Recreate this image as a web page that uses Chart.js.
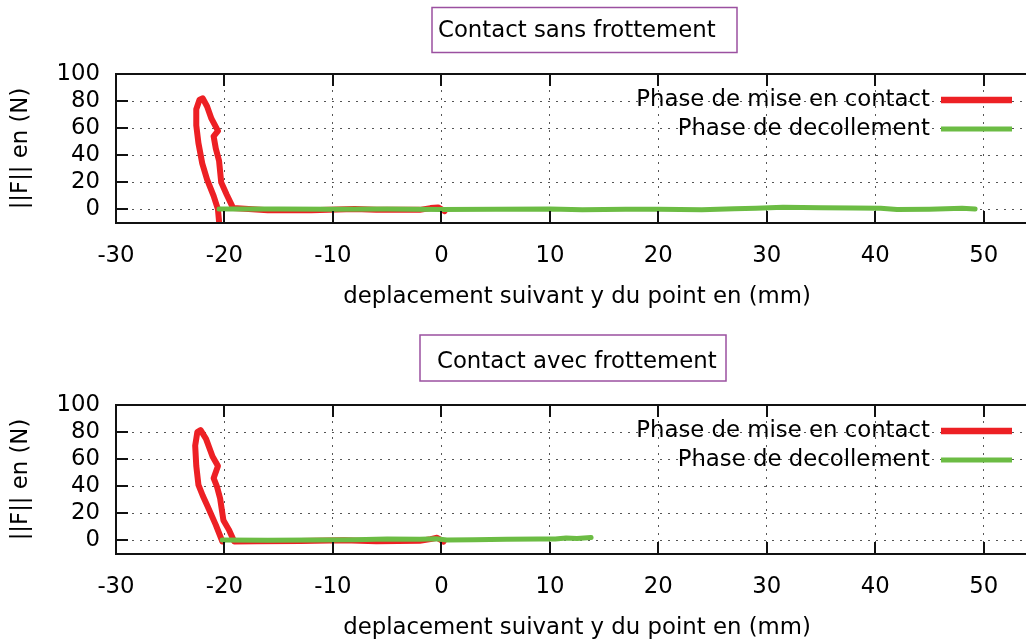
<!DOCTYPE html>
<html>
<head>
<meta charset="utf-8">
<script src="https://cdn.jsdelivr.net/npm/chart.js@4/dist/chart.umd.min.js"></script>
<style>
  html, body { margin: 0; padding: 0; background: #fff; overflow: hidden; }
  #wrap { position: relative; width: 1026px; height: 643px; overflow: hidden; }
  canvas { position: absolute; left: 0; }
  #chart-top { top: 0; }
  #chart-bottom { top: 331px; }
</style>
</head>
<body>
<div id="wrap">
  <canvas id="chart-top" width="1040" height="321"></canvas>
  <canvas id="chart-bottom" width="1040" height="321"></canvas>
</div>
<script>
const xTicks = [-30, -20, -10, 0, 10, 20, 30, 40, 50];
const yTicks = [0, 20, 40, 60, 80, 100];
const seriesLabels = ["Phase de mise en contact", "Phase de decollement"];

// contact sans frottement
const sansContactX = [0.3, -0.3, -1.0, -2.0, -6.0, -8.0, -12.0, -16.0, -19.2, -19.8, -20.3, -20.5, -20.8, -21.0, -20.6, -21.2, -21.6, -22.0, -22.3, -22.6, -22.6, -22.4, -22.05, -21.6, -21.0, -20.6, -20.5];
const sansContactY = [-1.2, 1.5, 1.0, -0.3, -0.2, 0.4, -0.5, -0.6, 1.0, 11, 20, 36, 45, 54, 58, 67, 76, 82, 81, 74, 62, 49, 34, 22, 10, 0, -8.8];
const sansDecolX = [-20.5, -15, -10, -5, 0, 5, 10, 13, 17, 20, 24, 27, 29, 31.5, 35, 38, 40.5, 42, 45, 48, 49.2];
const sansDecolY = [0.4, 0.3, 0.2, 0.4, 0.0, 0.2, 0.3, -0.3, 0.1, 0.1, -0.3, 0.6, 0.9, 1.6, 1.3, 1.0, 0.9, 0.0, 0.2, 0.8, 0.3];

// contact avec frottement
const avecContactX = [0.2, -0.4, -1.0, -2.0, -6.0, -9.0, -13.0, -17.0, -19.1, -19.6, -20.1, -20.4, -20.7, -21.0, -20.6, -21.1, -21.7, -22.2, -22.5, -22.7, -22.6, -22.4, -22.0, -21.6, -20.8, -20.2];
const avecContactY = [-0.8, 2.0, 1.0, -0.3, -0.5, 0.2, -0.4, -0.6, -0.7, 8, 15, 31, 40, 46, 55, 62, 75, 81.5, 80, 70, 55, 41, 33, 26, 11.5, -0.7];
const avecDecolX = [-20.2, -16, -12, -8, -5, -2, -0.5, 0.5, 3, 6, 9, 10.5, 11.5, 12.5, 13.8];
const avecDecolY = [0.3, 0.2, 0.4, 0.5, 1.0, 0.8, 1.2, 0.3, 0.6, 0.8, 1.0, 1.1, 1.8, 1.5, 2.2];

const red = "rgb(237, 32, 36)";
const green = "rgb(108, 188, 68)";
const fontFamily = "'DejaVu Sans', sans-serif";
const fontSize = 22.8;

Chart.defaults.font.family = fontFamily;
Chart.defaults.font.size = fontSize;
Chart.defaults.color = "#000";

function toPoints(xs, ys) {
  return xs.map((x, i) => ({ x: x, y: ys[i] }));
}

// gnuplot-like frame with inward ticks
const framePlugin = {
  id: "frame",
  afterDatasetsDraw(chart) {
    const { ctx, chartArea, scales } = chart;
    const { left, right, top, bottom } = chartArea;
    const tickLen = 12;
    ctx.save();
    ctx.strokeStyle = "#111";
    ctx.lineWidth = 2;
    ctx.beginPath();
    xTicks.forEach((v) => {
      const px = Math.round(scales.x.getPixelForValue(v));
      ctx.moveTo(px, bottom);
      ctx.lineTo(px, bottom - tickLen);
      ctx.moveTo(px, top);
      ctx.lineTo(px, top + tickLen);
    });
    yTicks.forEach((v) => {
      const py = Math.round(scales.y.getPixelForValue(v));
      ctx.moveTo(left, py);
      ctx.lineTo(left + tickLen, py);
      ctx.moveTo(right, py);
      ctx.lineTo(right - tickLen, py);
    });
    ctx.stroke();
    ctx.strokeRect(left, top, right - left, bottom - top);
    ctx.restore();
  }
};

// key in the upper right corner, text right aligned before the sample line
const keyPlugin = {
  id: "key",
  afterDraw(chart) {
    const { ctx } = chart;
    const rows = [
      { label: seriesLabels[0], color: red, width: 6.5, y: 100 },
      { label: seriesLabels[1], color: green, width: 5, y: 129 }
    ];
    ctx.save();
    ctx.font = `${fontSize}px ${fontFamily}`;
    ctx.textAlign = "right";
    ctx.textBaseline = "middle";
    rows.forEach((row) => {
      ctx.fillStyle = "#000";
      ctx.fillText(row.label, 930, row.y);
      ctx.strokeStyle = row.color;
      ctx.lineWidth = row.width;
      ctx.beginPath();
      ctx.moveTo(941, row.y);
      ctx.lineTo(1012, row.y);
      ctx.stroke();
    });
    ctx.restore();
  }
};

// boxed title
const boxTitlePlugin = {
  id: "boxTitle",
  afterDraw(chart, args, opts) {
    const { ctx } = chart;
    ctx.save();
    ctx.strokeStyle = "rgb(155, 80, 160)";
    ctx.lineWidth = 1.5;
    ctx.strokeRect(opts.box[0], opts.box[1], opts.box[2], opts.box[3]);
    ctx.font = `${fontSize}px ${fontFamily}`;
    ctx.fillStyle = "#000";
    ctx.textAlign = "left";
    ctx.textBaseline = "alphabetic";
    ctx.fillText(opts.text, opts.textX, opts.baseline);
    ctx.restore();
  }
};

function makeChart(id, contact, decol, title) {
  const ctx = document.querySelector(id);
  const data = {
    datasets: [
      {
        label: seriesLabels[0],
        data: contact,
        borderColor: red,
        borderWidth: 6,
        order: 2
      },
      {
        label: seriesLabels[1],
        data: decol,
        borderColor: green,
        borderWidth: 5,
        order: 1
      }
    ]
  };
  const gridStyle = {
    color: "#555",
    lineWidth: 1,
    drawTicks: false,
    borderDash: [2, 6]
  };
  const options = {
    responsive: false,
    animation: false,
    layout: { padding: { top: 74, right: 2, left: 0, bottom: 0 } },
    elements: {
      point: { radius: 0 },
      line: { tension: 0, borderJoinStyle: "round", borderCapStyle: "round", fill: false }
    },
    scales: {
      x: {
        type: "linear",
        min: -30,
        max: 55,
        afterBuildTicks: (scale) => {
          scale.ticks = xTicks.map((v) => ({ value: v }));
        },
        afterFit: (scale) => {
          scale.height = 98;
        },
        ticks: { padding: 19, maxRotation: 0, autoSkip: false },
        grid: gridStyle,
        border: { display: false, dash: [2, 6] },
        title: {
          display: true,
          text: "deplacement suivant y du point en (mm)",
          padding: { top: 0, bottom: 10 }
        }
      },
      y: {
        type: "linear",
        min: -10,
        max: 100,
        afterBuildTicks: (scale) => {
          scale.ticks = yTicks.map((v) => ({ value: v }));
        },
        afterFit: (scale) => {
          scale.width = 116;
        },
        ticks: { padding: 16, autoSkip: false },
        grid: gridStyle,
        border: { display: false, dash: [2, 6] },
        title: {
          display: true,
          text: "||F|| en (N)",
          padding: { top: 7, bottom: 0 }
        }
      }
    },
    plugins: {
      legend: { display: false },
      tooltip: { enabled: false },
      boxTitle: title
    }
  };
  return new Chart(ctx, {
    type: "scatter",
    data: data,
    options: options,
    plugins: [framePlugin, keyPlugin, boxTitlePlugin]
  });
}

Chart.defaults.datasets.scatter.showLine = true;

makeChart("#chart-top",
  toPoints(sansContactX, sansContactY),
  toPoints(sansDecolX, sansDecolY),
  { text: "Contact sans frottement", box: [432, 7.5, 305, 45], textX: 438, baseline: 37 });

makeChart("#chart-bottom",
  toPoints(avecContactX, avecContactY),
  toPoints(avecDecolX, avecDecolY),
  { text: "Contact avec frottement", box: [420, 4, 306, 46], textX: 437, baseline: 37 });
</script>
</body>
</html>
